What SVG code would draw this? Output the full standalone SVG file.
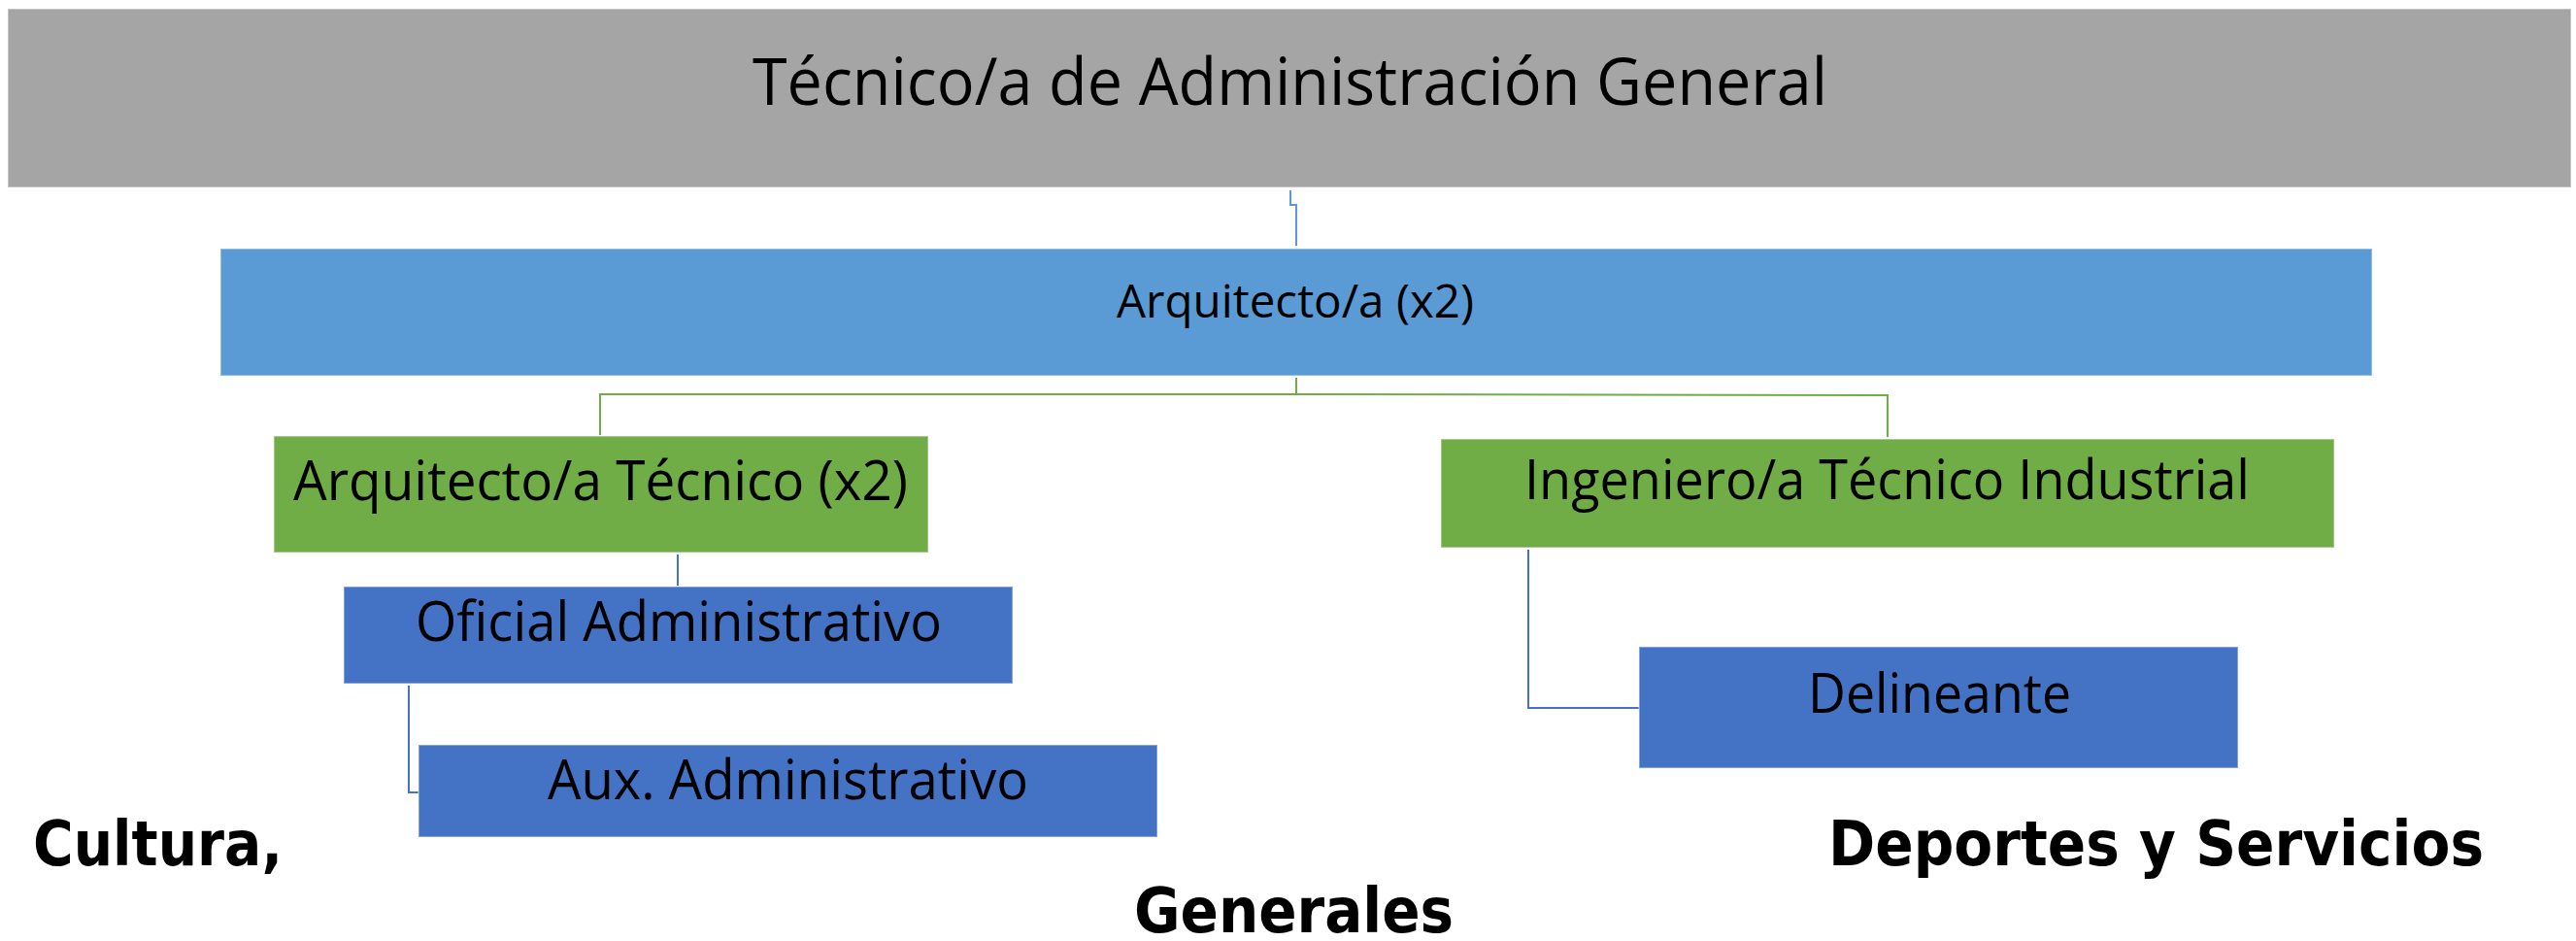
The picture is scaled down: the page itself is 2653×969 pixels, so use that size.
<svg xmlns="http://www.w3.org/2000/svg" width="2653" height="969" viewBox="0 0 2653 969">
<style>
.t{font-family:"Open Sans","Liberation Sans",Arial,sans-serif;fill:#000}
.b{font-family:"DejaVu Sans","Liberation Sans",sans-serif;font-weight:bold;fill:#000}
.box{stroke:#ffffff;stroke-opacity:0.35;stroke-width:2}
.c{fill:none;stroke-width:2}
</style>
<rect width="2653" height="969" fill="#ffffff"/>
<g id="connectors">
<polyline class="c" stroke="#5B9BD5" points="1329,196 1329,211 1335,211 1335,253"/>
<polyline class="c" stroke="#70AD47" points="1335,389 1335,406 618,406 618,448"/>
<polyline class="c" stroke="#70AD47" points="1335,406 1944,407 1944,450"/>
<polyline class="c" stroke="#4472C4" points="698,571 698,603"/>
<polyline class="c" stroke="#4472C4" points="421,706 421,816 431,816"/>
<polyline class="c" stroke="#4472C4" points="1574,566 1574,729 1688,729"/>
</g>
<g id="n-tag">
<rect class="box" x="8" y="9" width="2640" height="184" fill="#A5A5A5"/>
<text class="t" x="775" y="108" font-size="67" textLength="1107" lengthAdjust="spacingAndGlyphs">Técnico/a de Administración General</text>
</g>
<g id="n-arquitecto">
<rect class="box" x="227" y="256" width="2216" height="131" fill="#5B9BD5"/>
<text class="t" x="1150" y="327" font-size="47" textLength="368" lengthAdjust="spacingAndGlyphs">Arquitecto/a (x2)</text>
</g>
<g id="n-arqtec">
<rect class="box" x="282" y="449" width="674" height="120" fill="#70AD47"/>
<text class="t" x="302" y="515" font-size="56" textLength="633" lengthAdjust="spacingAndGlyphs">Arquitecto/a Técnico (x2)</text>
</g>
<g id="n-ingeniero">
<rect class="box" x="1484" y="452" width="920" height="112" fill="#70AD47"/>
<text class="t" x="1570" y="514" font-size="56" textLength="747" lengthAdjust="spacingAndGlyphs">Ingeniero/a Técnico Industrial</text>
</g>
<g id="n-oficial">
<rect class="box" x="354" y="604" width="689" height="100" fill="#4472C4"/>
<text class="t" x="428" y="660" font-size="56" textLength="542" lengthAdjust="spacingAndGlyphs">Oficial Administrativo</text>
</g>
<g id="n-aux">
<rect class="box" x="431" y="767" width="761" height="95" fill="#4472C4"/>
<text class="t" x="564" y="823" font-size="56" textLength="495" lengthAdjust="spacingAndGlyphs">Aux. Administrativo</text>
</g>
<g id="n-delineante">
<rect class="box" x="1688" y="666" width="617" height="125" fill="#4472C4"/>
<text class="t" x="1862" y="734" font-size="56" textLength="271" lengthAdjust="spacingAndGlyphs">Delineante</text>
</g>
<g id="labels">
<text class="b" x="34" y="891" font-size="64" textLength="257" lengthAdjust="spacingAndGlyphs">Cultura,</text>
<text class="b" x="1883" y="891" font-size="64" textLength="675" lengthAdjust="spacingAndGlyphs">Deportes y Servicios</text>
<text class="b" x="1168" y="960" font-size="64" textLength="329" lengthAdjust="spacingAndGlyphs">Generales</text>
</g>
</svg>
